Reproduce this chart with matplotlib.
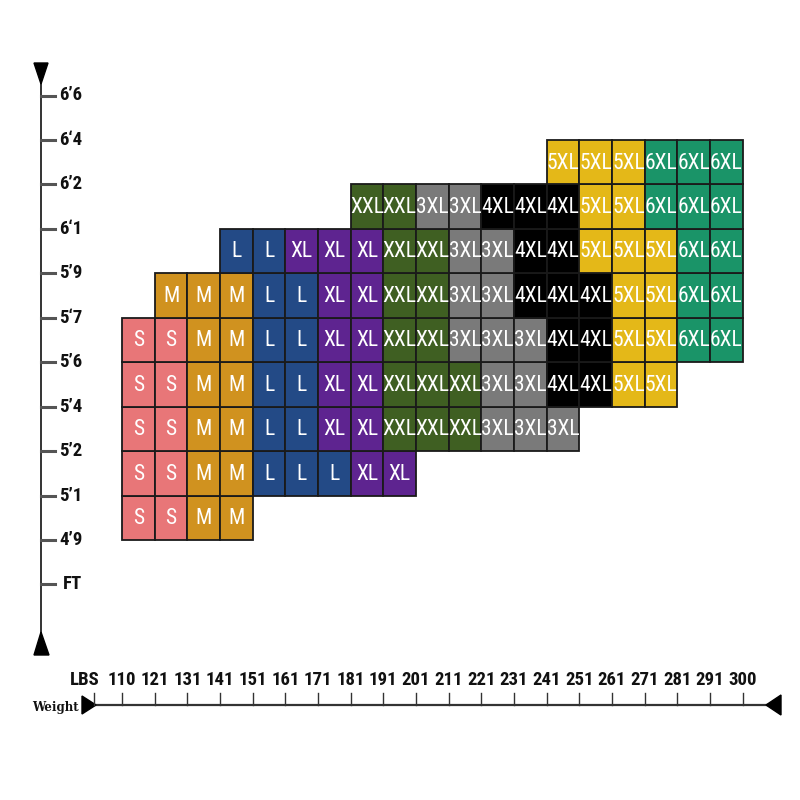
import matplotlib
matplotlib.use("Agg")
import matplotlib.pyplot as plt
from matplotlib.patches import Rectangle, Polygon
from matplotlib import font_manager

# --- police etroite si dispo ---
fl = font_manager.fontManager.ttflist
noms = set(f.name for f in fl)
etire = "normal"
if "Roboto Condensed" in noms:
    police, t_case, t_axe = "Roboto Condensed", 15.5, 13.5
elif "Liberation Sans Narrow" in noms:
    police, t_case, t_axe = "Liberation Sans Narrow", 14, 13
elif any(f.name == "DejaVu Sans" and f.stretch == "condensed" for f in fl):
    police, t_case, t_axe, etire = "DejaVu Sans", 12.5, 11.5, "condensed"
else:
    police, t_case, t_axe = "Roboto", 13, 12

### donnees ###
poids = [110, 121, 131, 141, 151, 161, 171, 181, 191, 201,
         211, 221, 231, 241, 251, 261, 271, 281, 291, 300]
tailles = ["4’9", "5’1", "5’2", "5’4", "5’6", "5‘7", "5’9", "6‘1", "6’2", "6‘4", "6’6"]

# lignes de bas en haut : colonne de depart + tailles
debut_ligne = [0, 0, 0, 0, 0, 1, 3, 7, 13]
lignes = [
    ["S", "S", "M", "M"],
    ["S", "S", "M", "M", "L", "L", "L", "XL", "XL"],
    ["S", "S", "M", "M", "L", "L", "XL", "XL", "XXL", "XXL", "XXL", "3XL", "3XL", "3XL"],
    ["S", "S", "M", "M", "L", "L", "XL", "XL", "XXL", "XXL", "XXL", "3XL", "3XL", "4XL", "4XL", "5XL", "5XL"],
    ["S", "S", "M", "M", "L", "L", "XL", "XL", "XXL", "XXL", "3XL", "3XL", "3XL", "4XL", "4XL", "5XL", "5XL", "6XL", "6XL"],
    ["M", "M", "M", "L", "L", "XL", "XL", "XXL", "XXL", "3XL", "3XL", "4XL", "4XL", "4XL", "5XL", "5XL", "6XL", "6XL"],
    ["L", "L", "XL", "XL", "XL", "XXL", "XXL", "3XL", "3XL", "4XL", "4XL", "5XL", "5XL", "5XL", "6XL", "6XL"],
    ["XXL", "XXL", "3XL", "3XL", "4XL", "4XL", "4XL", "5XL", "5XL", "6XL", "6XL", "6XL"],
    ["5XL", "5XL", "5XL", "6XL", "6XL", "6XL"],
]

couleurs = {
    "S": "#e87678", "M": "#d0921f", "L": "#234a86", "XL": "#5e2490",
    "XXL": "#3f5f22", "3XL": "#7a7a7a", "4XL": "#000000",
    "5XL": "#e4b818", "6XL": "#1a9468",
}

### mise en page (pixels de l'image 800x800) ###
x0, dx = 122, 32.67     # colonne 0 / largeur case
y0, dy = 540, 44.45     # ligne 0 (bas) / hauteur case

def px_x(p):
    return (p - x0) / dx

def px_y(p):
    return (y0 - p) / dy

fig = plt.figure(figsize=(8, 8), dpi=100)
ax = fig.add_axes([0, 0, 1, 1])
ax.set_xlim(px_x(0), px_x(800))
ax.set_ylim(px_y(800), px_y(0))
ax.axis("off")

style_axe = dict(fontsize=t_axe, fontweight="bold", family=police, fontstretch=etire,
                 va="center", color="#111111")

#region cases
for r, (deb, ligne) in enumerate(zip(debut_ligne, lignes)):
    for k, t in enumerate(ligne):
        c = deb + k
        ax.add_patch(Rectangle((c, r), 1, 1, facecolor=couleurs[t],
                               edgecolor="#1a1a1a", linewidth=1.3, zorder=2))
        ax.text(c + 0.5, r + 0.48, t, color="white", fontsize=t_case,
                family=police, fontstretch=etire, ha="center", va="center", zorder=3)
#endregion

#region axe vertical
xa = px_x(41)
ax.plot([xa, xa], [px_y(80), px_y(640)], color="#333333", lw=1.4, zorder=1)
ax.add_patch(Polygon([[px_x(34), px_y(63)], [px_x(48), px_y(63)], [xa, px_y(84)]],
                     closed=True, color="black"))
ax.add_patch(Polygon([[px_x(34), px_y(655)], [px_x(49), px_y(655)], [xa, px_y(632)]],
                     closed=True, color="black"))

for i, h in enumerate(tailles):
    ax.plot([xa, px_x(55)], [i, i], color="#555555", lw=2.2)
    ax.text(px_x(59), i, h, ha="left", **style_axe)
ax.plot([xa, px_x(55)], [-1, -1], color="#555555", lw=2.2)
ax.text(px_x(63), -1, "FT", ha="left", **style_axe)
#endregion

#region axe horizontal
ya = px_y(705)
ax.plot([px_x(90), px_x(770)], [ya, ya], color="#333333", lw=1.6, zorder=1)
ax.add_patch(Polygon([[px_x(82), px_y(696)], [px_x(82), px_y(714)], [px_x(96), ya]],
                     closed=True, color="black"))
ax.add_patch(Polygon([[px_x(781), px_y(695)], [px_x(781), px_y(715)], [px_x(766), ya]],
                     closed=True, color="black"))

for i, w in enumerate(poids):
    ax.plot([i, i], [ya, px_y(693)], color="#333333", lw=1.0)
    ax.text(i, px_y(680), str(w), ha="center", **style_axe)
ax.plot([px_x(94), px_x(94)], [ya, px_y(693)], color="#333333", lw=1.0)
ax.text(px_x(85), px_y(680), "LBS", ha="center", **style_axe)
ax.text(px_x(55), px_y(708), "Weight", fontsize=8.5, fontweight="bold",
        family="DejaVu Serif", ha="center", va="center", color="#111111")
#endregion

fig.savefig("out.png", dpi=100)
